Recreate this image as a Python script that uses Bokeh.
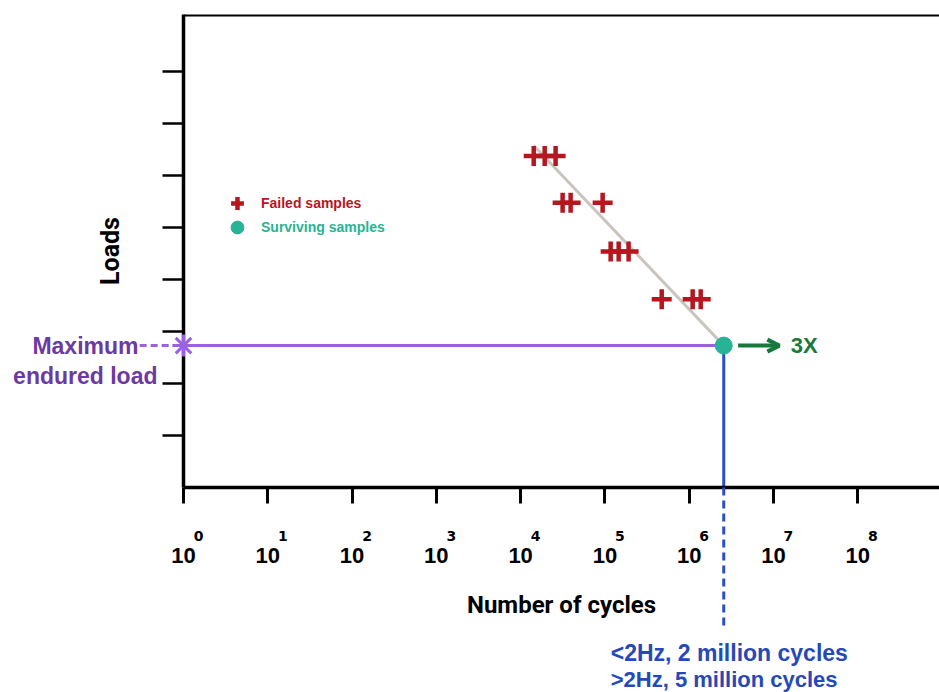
import numpy as np
from bokeh.plotting import figure
from bokeh.models import (Range1d, FixedTicker, CustomJSTickFormatter, Span, Label,
                          ColumnDataSource, Arrow, OpenHead, Legend, LegendItem)
from bokeh.embed import file_html
from bokeh.resources import INLINE
from bokeh.core.properties import value

# ---------------- data ----------------
tick_exponents = [0, 1, 2, 3, 4, 5, 6, 7, 8]
load_ticks = [1, 2, 3, 4, 5, 6, 7, 8]

failed_cycles = [14300, 19300, 26000,
                 31500, 39200, 94000,
                 117000, 145600, 191000,
                 472000, 1100000, 1370000]
failed_loads = [6.38, 6.38, 6.38,
                5.48, 5.48, 5.48,
                4.54, 4.54, 4.54,
                3.62, 3.62, 3.62]

survive_cycles = [2570000]
survive_loads = [2.73]

trend_cycles = [14300, 2570000]
trend_loads = [6.58, 2.73]

max_load_cycles = [1, 2570000]
max_load_loads = [2.73, 2.73]

# ---------------- colours / fonts ----------------
RED = "#b5161f"
TEAL = "#27b394"
PURPLE_LINE = "#9a63dc"
PURPLE_TEXT = "#6c3aa2"
BLUE_LINE = "#2a4fc6"
BLUE_TEXT = "#2549b8"
GREEN = "#17793b"
GREY = "#c9c5be"
COND = "Roboto"
SANS = "Liberation Sans"

p = figure(width=939, height=692, x_axis_type="log",
           x_range=Range1d(1, 10 ** 8.97), y_range=Range1d(0, 9.1),
           output_backend="svg", toolbar_location=None,
           min_border_left=183, min_border_right=0,
           min_border_top=14, min_border_bottom=205)
p.outline_line_color = None
p.grid.visible = False
p.background_fill_color = "white"
p.border_fill_color = "white"

# top frame line
p.add_layout(Span(location=9.1, dimension="width", line_color="black", line_width=4))

# x axis
xa = p.xaxis[0]
xa.ticker = FixedTicker(ticks=[10.0 ** e for e in tick_exponents], minor_ticks=[])
xa.formatter = CustomJSTickFormatter(code="return '10'")
xa.axis_line_width = 3.5
xa.axis_line_color = "black"
xa.major_tick_out = 16
xa.major_tick_in = 0
xa.major_tick_line_width = 3
xa.minor_tick_line_color = None
xa.major_label_standoff = 44
xa.major_label_text_font = SANS
xa.major_label_text_font_style = "bold"
xa.major_label_text_font_size = "22px"
xa.major_label_text_color = "black"
xa.axis_label = "Number of cycles"
xa.axis_label_text_font = COND
xa.axis_label_text_font_style = "bold"
xa.axis_label_text_font_size = "24px"
xa.axis_label_text_color = "black"
xa.axis_label_standoff = 25

# y axis
ya = p.yaxis[0]
ya.ticker = FixedTicker(ticks=load_ticks, minor_ticks=[])
ya.formatter = CustomJSTickFormatter(code="return ''")
ya.axis_line_width = 3.5
ya.axis_line_color = "black"
ya.major_tick_out = 21
ya.major_tick_in = 0
ya.major_tick_line_width = 2.5
ya.minor_tick_line_color = None
ya.axis_label = "Loads"
ya.axis_label_text_font = COND
ya.axis_label_text_font_style = "bold"
ya.axis_label_text_font_size = "25px"
ya.axis_label_text_color = "black"
ya.axis_label_standoff = 38

# exponent superscripts (drawn as text glyphs above the clip level)
sup_src = ColumnDataSource(dict(x=[10.0 ** e for e in tick_exponents],
                                t=[str(e) for e in tick_exponents]))
sup_r = p.text(x="x", y=-0.94, text="t", source=sup_src, x_offset=15,
               text_align="center", text_baseline="middle",
               text_font=value("DejaVu Sans"), text_font_style="bold",
               text_font_size="14px", text_color="black")
sup_r.level = "overlay"

# trend line
p.line(trend_cycles, trend_loads, line_color=GREY, line_width=3)

# maximum endured load line
p.line(max_load_cycles, max_load_loads, line_color=PURPLE_LINE, line_width=3)
dash_r = p.line([10 ** -0.52, 1], [survive_loads[0], survive_loads[0]],
                line_color=PURPLE_LINE, line_width=3, line_dash="7 4")
dash_r.level = "overlay"
star_r = p.scatter([1], survive_loads, marker="asterisk", size=22,
                   line_color=PURPLE_LINE, line_width=3)
star_r.level = "overlay"

# vertical blue line
p.line([survive_cycles[0], survive_cycles[0]], [survive_loads[0], 0],
       line_color=BLUE_LINE, line_width=3)
vdash = p.line([survive_cycles[0], survive_cycles[0]], [0, -2.75],
               line_color=BLUE_LINE, line_width=3, line_dash="8 5")
vdash.level = "overlay"

# samples
failed_r = p.scatter(failed_cycles, failed_loads, marker="cross", size=20,
                     line_color=RED, line_width=4.5)
survive_r = p.scatter(survive_cycles, survive_loads, marker="circle", size=17,
                      fill_color=TEAL, line_color=TEAL, line_width=1)

# 3X arrow
p.add_layout(Arrow(end=OpenHead(size=12, line_width=4, line_color=GREEN),
                   x_start=survive_cycles[0] * 10 ** 0.17, y_start=survive_loads[0],
                   x_end=survive_cycles[0] * 10 ** 0.66, y_end=survive_loads[0],
                   line_color=GREEN, line_width=4))
p.add_layout(Label(x=survive_cycles[0] * 10 ** 0.795, y=survive_loads[0], text="3X",
                   text_align="left", text_baseline="middle",
                   text_font=SANS, text_font_style="bold",
                   text_font_size="22px", text_color=GREEN))

# left annotation (text glyphs, not clipped to the frame)
t1 = p.text(x=[1], y=survive_loads, text=["Maximum"], x_offset=-45,
            text_align="right", text_baseline="middle",
            text_font=value(SANS), text_font_style="bold",
            text_font_size="23px", text_color=PURPLE_TEXT)
t1.level = "overlay"
t2 = p.text(x=[1], y=[2.15], text=["endured load"], x_offset=-26,
            text_align="right", text_baseline="middle",
            text_font=value(SANS), text_font_style="bold",
            text_font_size="23px", text_color=PURPLE_TEXT)
t2.level = "overlay"

# bottom annotation
b1 = p.text(x=survive_cycles, y=[-3.19], text=["<2Hz, 2 million cycles"], x_offset=-113,
            text_align="left", text_baseline="middle",
            text_font=value(SANS), text_font_style="bold",
            text_font_size="23px", text_color=BLUE_TEXT)
b1.level = "overlay"
b2 = p.text(x=survive_cycles, y=[-3.70], text=[">2Hz, 5 million cycles"], x_offset=-113,
            text_align="left", text_baseline="middle",
            text_font=value(SANS), text_font_style="bold",
            text_font_size="22px", text_color=BLUE_TEXT)
b2.level = "overlay"

# legends (one per item so each label keeps its own colour)
for r, lab, col, vy in [(failed_r, "Failed samples", RED, 268),
                        (survive_r, "Surviving samples", TEAL, 244)]:
    lg = Legend(items=[LegendItem(label=lab, renderers=[r])], location=(38, vy),
                glyph_width=32, glyph_height=32, label_standoff=8,
                padding=0, margin=0, spacing=0,
                border_line_color=None, background_fill_alpha=0,
                label_text_font=SANS, label_text_font_style="bold",
                label_text_font_size="14px", label_text_color=col)
    p.add_layout(lg, "center")

open("out.html", "w").write(file_html(p, INLINE))
